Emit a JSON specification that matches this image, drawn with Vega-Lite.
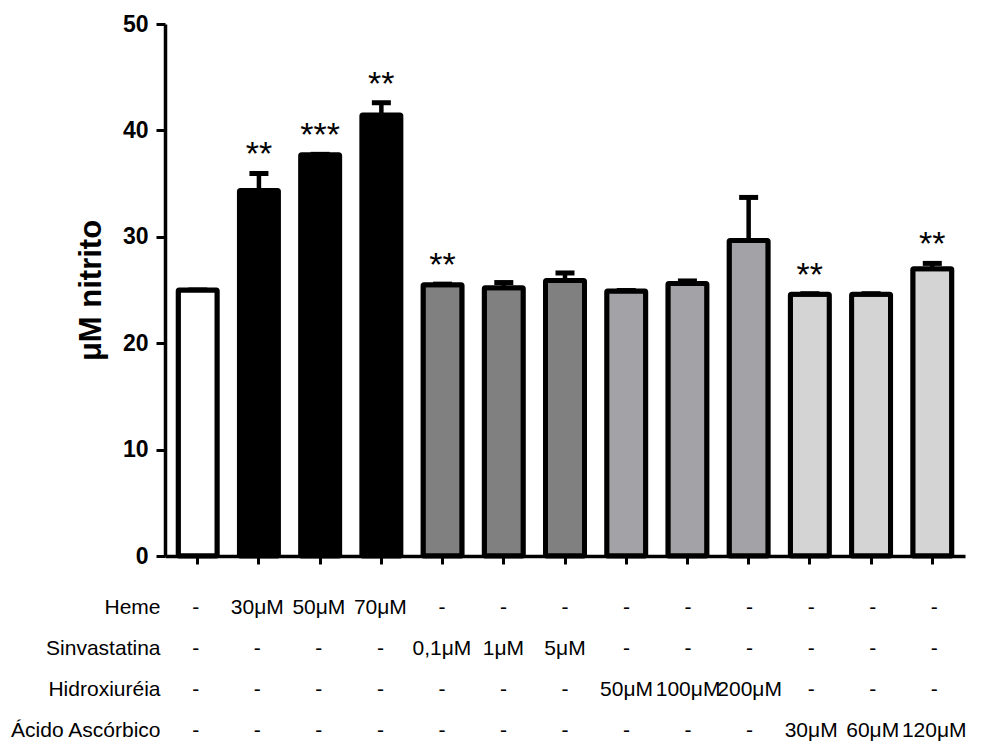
{
  "$schema": "https://vega.github.io/schema/vega-lite/v6.json",
  "autosize": {"type": "none"},
  "padding": {"left": 165, "top": 24, "right": 817, "bottom": 720},
  "background": "white",
  "bounds": "flush",
  "spacing": 31,
  "config": {
    "view": {"stroke": null},
    "font": "Liberation Sans"
  },
  "datasets": {
    "bars": [
      {"cond": "Controle", "grupo": "Controle", "mean": 25.0, "upper": 25.0, "star": ""},
      {"cond": "Heme 30μM", "grupo": "Heme", "mean": 34.35, "upper": 35.95, "star": "**"},
      {"cond": "Heme 50μM", "grupo": "Heme", "mean": 37.7, "upper": 37.75, "star": "***"},
      {"cond": "Heme 70μM", "grupo": "Heme", "mean": 41.45, "upper": 42.6, "star": "**"},
      {"cond": "Sinvastatina 0,1μM", "grupo": "Sinvastatina", "mean": 25.5, "upper": 25.55, "star": "**"},
      {"cond": "Sinvastatina 1μM", "grupo": "Sinvastatina", "mean": 25.2, "upper": 25.7, "star": ""},
      {"cond": "Sinvastatina 5μM", "grupo": "Sinvastatina", "mean": 25.9, "upper": 26.6, "star": ""},
      {"cond": "Hidroxiuréia 50μM", "grupo": "Hidroxiuréia", "mean": 24.9, "upper": 24.95, "star": ""},
      {"cond": "Hidroxiuréia 100μM", "grupo": "Hidroxiuréia", "mean": 25.6, "upper": 25.85, "star": ""},
      {"cond": "Hidroxiuréia 200μM", "grupo": "Hidroxiuréia", "mean": 29.65, "upper": 33.7, "star": ""},
      {"cond": "Ácido Ascórbico 30μM", "grupo": "Ácido Ascórbico", "mean": 24.6, "upper": 24.65, "star": "**"},
      {"cond": "Ácido Ascórbico 60μM", "grupo": "Ácido Ascórbico", "mean": 24.6, "upper": 24.65, "star": ""},
      {"cond": "Ácido Ascórbico 120μM", "grupo": "Ácido Ascórbico", "mean": 27.0, "upper": 27.5, "star": "**"}
    ],
    "tabela": [
      {"cond": "Controle", "row": "Heme", "label": "-"},
      {"cond": "Heme 30μM", "row": "Heme", "label": "30μM"},
      {"cond": "Heme 50μM", "row": "Heme", "label": "50μM"},
      {"cond": "Heme 70μM", "row": "Heme", "label": "70μM"},
      {"cond": "Sinvastatina 0,1μM", "row": "Heme", "label": "-"},
      {"cond": "Sinvastatina 1μM", "row": "Heme", "label": "-"},
      {"cond": "Sinvastatina 5μM", "row": "Heme", "label": "-"},
      {"cond": "Hidroxiuréia 50μM", "row": "Heme", "label": "-"},
      {"cond": "Hidroxiuréia 100μM", "row": "Heme", "label": "-"},
      {"cond": "Hidroxiuréia 200μM", "row": "Heme", "label": "-"},
      {"cond": "Ácido Ascórbico 30μM", "row": "Heme", "label": "-"},
      {"cond": "Ácido Ascórbico 60μM", "row": "Heme", "label": "-"},
      {"cond": "Ácido Ascórbico 120μM", "row": "Heme", "label": "-"},
      {"cond": "Controle", "row": "Sinvastatina", "label": "-"},
      {"cond": "Heme 30μM", "row": "Sinvastatina", "label": "-"},
      {"cond": "Heme 50μM", "row": "Sinvastatina", "label": "-"},
      {"cond": "Heme 70μM", "row": "Sinvastatina", "label": "-"},
      {"cond": "Sinvastatina 0,1μM", "row": "Sinvastatina", "label": "0,1μM"},
      {"cond": "Sinvastatina 1μM", "row": "Sinvastatina", "label": "1μM"},
      {"cond": "Sinvastatina 5μM", "row": "Sinvastatina", "label": "5μM"},
      {"cond": "Hidroxiuréia 50μM", "row": "Sinvastatina", "label": "-"},
      {"cond": "Hidroxiuréia 100μM", "row": "Sinvastatina", "label": "-"},
      {"cond": "Hidroxiuréia 200μM", "row": "Sinvastatina", "label": "-"},
      {"cond": "Ácido Ascórbico 30μM", "row": "Sinvastatina", "label": "-"},
      {"cond": "Ácido Ascórbico 60μM", "row": "Sinvastatina", "label": "-"},
      {"cond": "Ácido Ascórbico 120μM", "row": "Sinvastatina", "label": "-"},
      {"cond": "Controle", "row": "Hidroxiuréia", "label": "-"},
      {"cond": "Heme 30μM", "row": "Hidroxiuréia", "label": "-"},
      {"cond": "Heme 50μM", "row": "Hidroxiuréia", "label": "-"},
      {"cond": "Heme 70μM", "row": "Hidroxiuréia", "label": "-"},
      {"cond": "Sinvastatina 0,1μM", "row": "Hidroxiuréia", "label": "-"},
      {"cond": "Sinvastatina 1μM", "row": "Hidroxiuréia", "label": "-"},
      {"cond": "Sinvastatina 5μM", "row": "Hidroxiuréia", "label": "-"},
      {"cond": "Hidroxiuréia 50μM", "row": "Hidroxiuréia", "label": "50μM"},
      {"cond": "Hidroxiuréia 100μM", "row": "Hidroxiuréia", "label": "100μM"},
      {"cond": "Hidroxiuréia 200μM", "row": "Hidroxiuréia", "label": "200μM"},
      {"cond": "Ácido Ascórbico 30μM", "row": "Hidroxiuréia", "label": "-"},
      {"cond": "Ácido Ascórbico 60μM", "row": "Hidroxiuréia", "label": "-"},
      {"cond": "Ácido Ascórbico 120μM", "row": "Hidroxiuréia", "label": "-"},
      {"cond": "Controle", "row": "Ácido Ascórbico", "label": "-"},
      {"cond": "Heme 30μM", "row": "Ácido Ascórbico", "label": "-"},
      {"cond": "Heme 50μM", "row": "Ácido Ascórbico", "label": "-"},
      {"cond": "Heme 70μM", "row": "Ácido Ascórbico", "label": "-"},
      {"cond": "Sinvastatina 0,1μM", "row": "Ácido Ascórbico", "label": "-"},
      {"cond": "Sinvastatina 1μM", "row": "Ácido Ascórbico", "label": "-"},
      {"cond": "Sinvastatina 5μM", "row": "Ácido Ascórbico", "label": "-"},
      {"cond": "Hidroxiuréia 50μM", "row": "Ácido Ascórbico", "label": "-"},
      {"cond": "Hidroxiuréia 100μM", "row": "Ácido Ascórbico", "label": "-"},
      {"cond": "Hidroxiuréia 200μM", "row": "Ácido Ascórbico", "label": "-"},
      {"cond": "Ácido Ascórbico 30μM", "row": "Ácido Ascórbico", "label": "30μM"},
      {"cond": "Ácido Ascórbico 60μM", "row": "Ácido Ascórbico", "label": "60μM"},
      {"cond": "Ácido Ascórbico 120μM", "row": "Ácido Ascórbico", "label": "120μM"}
    ]
  },
  "vconcat": [
    {
      "width": 800,
      "height": 532,
      "data": {"name": "bars"},
      "encoding": {
        "x": {
          "field": "cond",
          "type": "nominal",
          "sort": null,
          "scale": {
            "domain": ["Controle", "Heme 30μM", "Heme 50μM", "Heme 70μM", "Sinvastatina 0,1μM", "Sinvastatina 1μM", "Sinvastatina 5μM", "Hidroxiuréia 50μM", "Hidroxiuréia 100μM", "Hidroxiuréia 200μM", "Ácido Ascórbico 30μM", "Ácido Ascórbico 60μM", "Ácido Ascórbico 120μM"],
            "paddingInner": 0.363,
            "paddingOuter": 0.216
          },
          "axis": {
            "title": null,
            "labels": false,
            "tickSize": 8,
            "tickWidth": 3,
            "tickColor": "black",
            "domainWidth": 3.5,
            "domainColor": "black",
            "grid": false
          }
        }
      },
      "layer": [
        {
          "mark": {"type": "rule", "color": "black", "strokeWidth": 4.5},
          "encoding": {
            "y": {"field": "mean", "type": "quantitative"},
            "y2": {"field": "upper"}
          }
        },
        {
          "mark": {"type": "tick", "color": "black", "size": 19, "thickness": 5, "opacity": 1},
          "encoding": {
            "y": {"field": "upper", "type": "quantitative"}
          }
        },
        {
          "mark": {"type": "bar", "stroke": "black", "strokeWidth": 5, "strokeJoin": "round", "cornerRadius": 1},
          "encoding": {
            "y": {
              "field": "mean",
              "type": "quantitative",
              "scale": {"domain": [0, 50], "nice": false},
              "axis": {
                "title": "μM nitrito",
                "titleFontSize": 31,
                "titleFontWeight": "bold",
                "titleFont": "Liberation Sans",
                "titleColor": "black",
                "titlePadding": 15,
                "values": [0, 10, 20, 30, 40, 50],
                "labelFontSize": 23,
                "labelFontWeight": "bold",
                "labelFont": "Liberation Sans",
                "labelColor": "black",
                "labelPadding": 8,
                "tickSize": 9,
                "tickWidth": 3,
                "tickColor": "black",
                "domainWidth": 3.5,
                "domainColor": "black",
                "grid": false
              }
            },
            "fill": {
              "field": "grupo",
              "type": "nominal",
              "scale": {
                "domain": ["Controle", "Heme", "Sinvastatina", "Hidroxiuréia", "Ácido Ascórbico"],
                "range": ["#ffffff", "#000000", "#808080", "#a3a3a7", "#d4d4d4"]
              },
              "legend": null
            }
          }
        },
        {
          "mark": {"type": "text", "fontSize": 34, "color": "black", "baseline": "alphabetic", "dy": -8, "font": "Liberation Sans"},
          "encoding": {
            "y": {"field": "upper", "type": "quantitative"},
            "text": {"field": "star"}
          }
        }
      ]
    },
    {
      "width": 800,
      "height": 164,
      "data": {"name": "tabela"},
      "mark": {"type": "text", "fontSize": 21, "color": "black", "baseline": "middle", "font": "Liberation Sans"},
      "encoding": {
        "x": {
          "field": "cond",
          "type": "nominal",
          "sort": null,
          "scale": {
            "domain": ["Controle", "Heme 30μM", "Heme 50μM", "Heme 70μM", "Sinvastatina 0,1μM", "Sinvastatina 1μM", "Sinvastatina 5μM", "Hidroxiuréia 50μM", "Hidroxiuréia 100μM", "Hidroxiuréia 200μM", "Ácido Ascórbico 30μM", "Ácido Ascórbico 60μM", "Ácido Ascórbico 120μM"],
            "paddingInner": 0.363,
            "paddingOuter": 0.216
          },
          "axis": null
        },
        "y": {
          "field": "row",
          "type": "nominal",
          "sort": ["Heme", "Sinvastatina", "Hidroxiuréia", "Ácido Ascórbico"],
          "scale": {"paddingInner": 0, "paddingOuter": 0},
          "axis": {
            "title": null,
            "domain": false,
            "ticks": false,
            "labelPadding": 5,
            "labelFontSize": 21,
            "labelFont": "Liberation Sans",
            "labelColor": "black",
            "grid": false
          }
        },
        "text": {"field": "label"}
      }
    }
  ]
}
